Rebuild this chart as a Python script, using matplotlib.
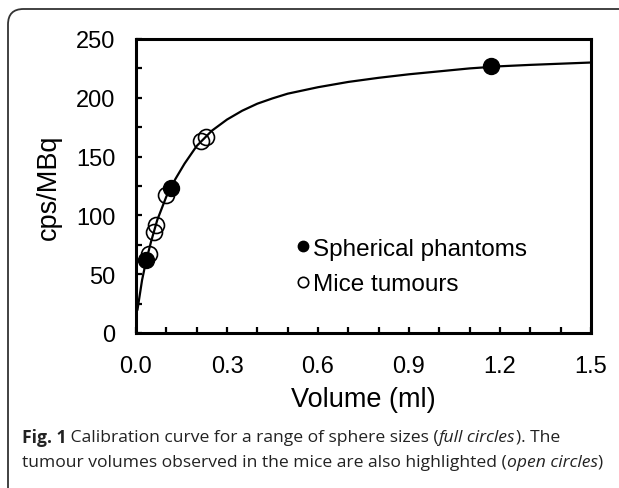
import matplotlib.pyplot as plt
import numpy as np
from matplotlib.patches import FancyBboxPatch
from matplotlib.ticker import MultipleLocator

plt.rcParams['font.family'] = ['Liberation Sans', 'DejaVu Sans']

# spherical phantoms (full circles)
phantom_vol = [0.033, 0.115, 1.171]
phantom_cps = [62, 123, 227]

# mice tumours (open circles)
tumour_vol = [0.043, 0.060, 0.066, 0.099, 0.213, 0.232]
tumour_cps = [67, 86, 92, 117, 163, 167]

# calibration curve
curve_vol = [0.005, 0.02, 0.033, 0.05, 0.07, 0.10, 0.13, 0.16, 0.20, 0.25, 0.30,
             0.35, 0.40, 0.45, 0.50, 0.60, 0.70, 0.80, 0.90, 1.00, 1.10, 1.20,
             1.30, 1.40, 1.50]
curve_cps = [20, 45, 61, 78, 96, 116, 131, 144, 159, 172, 181.5,
             189, 195, 199.5, 203.5, 209, 213.5, 217, 220, 222.5, 225, 226.8,
             228, 229, 230]

fig = plt.figure(figsize=(6.19, 4.89), dpi=100)
W, H = 619, 489
ax = fig.add_axes([136 / W, 1 - 334 / H, (591 - 136) / W, (334 - 40) / H])

# outer rounded frame
frame = FancyBboxPatch((8 / W, -0.05), 1.2, 1 - 10 / H + 0.05,
                       boxstyle="round,pad=0,rounding_size=0.025",
                       transform=fig.transFigure, fill=False,
                       edgecolor='#333333', lw=1.3, mutation_aspect=W / H)
fig.patches.append(frame)

ax.plot(curve_vol, curve_cps, color='black', lw=1.6, zorder=2)
ax.plot(phantom_vol, phantom_cps, 'o', color='black', ms=11.5,
        label='Spherical phantoms', zorder=3)
ax.plot(tumour_vol, tumour_cps, 'o', mfc='none', mec='black', mew=1.2,
        ms=11.5, label='Mice tumours', zorder=4)

ax.set_xlim(0, 1.5)
ax.set_ylim(0, 250)
ax.xaxis.set_major_locator(MultipleLocator(0.3))
ax.xaxis.set_minor_locator(MultipleLocator(0.1))
ax.yaxis.set_major_locator(MultipleLocator(50))
ax.yaxis.set_minor_locator(MultipleLocator(25))
ax.xaxis.set_major_formatter(lambda v, p: f'{v:.1f}')
ax.tick_params(which='both', direction='in', length=4, width=1.6,
               labelsize=17)
ax.tick_params(axis='x', pad=16)
ax.tick_params(axis='y', pad=15)
for s in ax.spines.values():
    s.set_linewidth(2.2)

ax.set_xlabel('Volume (ml)', fontsize=19.5, labelpad=6)
ax.set_ylabel('cps/MBq', fontsize=19.5, labelpad=10)

leg = ax.legend(loc='center left', bbox_to_anchor=(0.326, 0.226), frameon=False,
                fontsize=17.5, markerscale=0.65, handlelength=0.5,
                handletextpad=0.2, labelspacing=0.55, borderpad=0)


# caption built from pieces so italics can be mixed in
def caption_line(y, parts):
    x = 22 / W
    r = fig.canvas.get_renderer()
    for txt, style, weight in parts:
        t = fig.text(x, 1 - y / H, txt, fontsize=12.6, va='center', ha='left',
                     family='Open Sans', style=style, weight=weight,
                     color='#222222')
        bb = t.get_window_extent(renderer=r)
        x += bb.width / W


caption_line(438, [('Fig. 1', 'normal', 'bold'),
                   (' Calibration curve for a range of sphere sizes (', 'normal', 'normal'),
                   ('full circles', 'italic', 'normal'),
                   ('). The', 'normal', 'normal')])
caption_line(463, [('tumour volumes observed in the mice are also highlighted (',
                    'normal', 'normal'),
                   ('open circles', 'italic', 'normal'),
                   (')', 'normal', 'normal')])

fig.savefig('out.png', dpi=100)
